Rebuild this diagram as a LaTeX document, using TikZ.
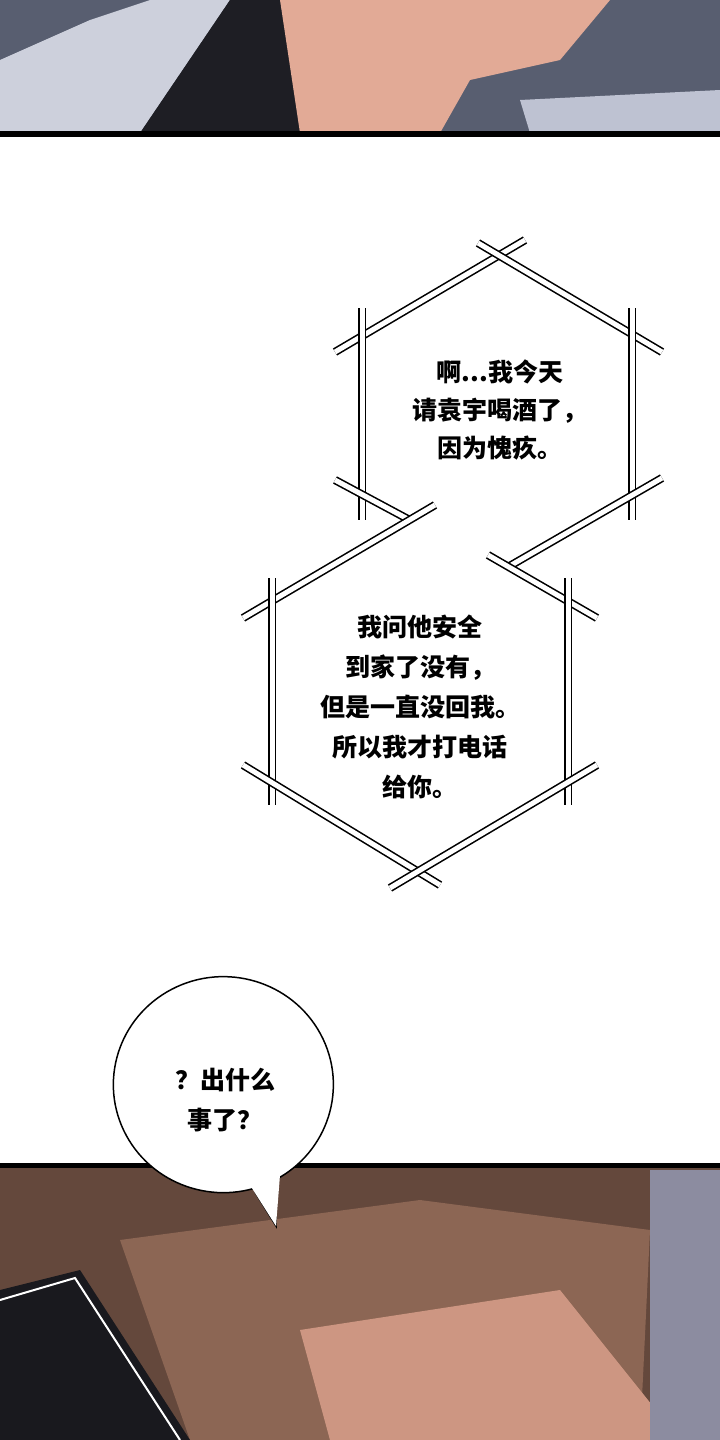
\documentclass[tikz,border=0pt]{standalone}
\usepackage{fontspec}
\newfontfamily\cjk{Noto Sans CJK SC}
\begin{document}
\begin{tikzpicture}[x=1pt,y=-1pt,
  edge/.style={draw=black,line width=1.6pt,double=white,double distance=5pt},
  txt/.style={font=\cjk\bfseries\fontsize{25}{38}\selectfont,align=center,text=black}]
\useasboundingbox (0,0) rectangle (720,1440);
\fill[white] (0,0) rectangle (720,1440);
% top panel
\fill[fill={rgb,255:red,88;green,94;blue,112}] (0,0) rectangle (720,133);
\fill[fill={rgb,255:red,205;green,208;blue,220}] (0,60) -- (90,20) -- (150,0) -- (230,0) -- (140,133) -- (0,133) -- cycle;
\fill[fill={rgb,255:red,30;green,30;blue,36}] (140,133) -- (230,0) -- (290,0) -- (310,133) -- cycle;
\fill[fill={rgb,255:red,226;green,170;blue,150}] (280,0) -- (610,0) -- (560,60) -- (470,80) -- (440,133) -- (300,133) -- cycle;
\fill[fill={rgb,255:red,190;green,194;blue,210}] (520,100) -- (720,90) -- (720,133) -- (530,133) -- cycle;
\fill[black] (0,131) rectangle (720,137);
% bottom panel
\fill[fill={rgb,255:red,100;green,72;blue,60}] (0,1166) rectangle (720,1440);
\fill[fill={rgb,255:red,140;green,102;blue,84}] (120,1240) -- (420,1200) -- (650,1230) -- (640,1440) -- (190,1440) -- cycle;
\fill[fill={rgb,255:red,205;green,150;blue,130}] (300,1330) -- (560,1290) -- (680,1440) -- (330,1440) -- cycle;
\fill[fill={rgb,255:red,140;green,140;blue,160}] (650,1170) rectangle (720,1440);
\fill[fill={rgb,255:red,25;green,25;blue,30}] (0,1290) -- (80,1270) -- (190,1440) -- (0,1440) -- cycle;
\draw[white,line width=2pt] (0,1300) -- (75,1278) -- (180,1440);
\fill[black] (0,1163) rectangle (720,1168);
% hexagon 1
\coordinate (a1) at (335,352); \coordinate (a2) at (525,240);
\coordinate (b1) at (478,243); \coordinate (b2) at (662,352);
\coordinate (c1) at (632,308); \coordinate (c2) at (632,520);
\coordinate (d1) at (662,478); \coordinate (d2) at (482,582);
\coordinate (e1) at (362,308); \coordinate (e2) at (362,520);
\coordinate (f1) at (335,480); \coordinate (f2) at (432,532);
\foreach \p/\q in {a1/a2,b1/b2,c1/c2,d1/d2,e1/e2,f1/f2} \draw[edge] (\p) -- (\q);
\node[txt] (t1) at (500,410) {啊...我今天\\请袁宇喝酒了，\\因为愧疚。};
% hexagon 2
\fill[white] (272,600) -- (420,515) -- (568,600) -- (568,780) -- (418,873) -- (272,780) -- cycle;
\coordinate (g1) at (243,618); \coordinate (g2) at (435,505);
\coordinate (h1) at (488,555); \coordinate (h2) at (597,618);
\coordinate (i1) at (568,578); \coordinate (i2) at (568,805);
\coordinate (j1) at (272,578); \coordinate (j2) at (272,805);
\coordinate (k1) at (243,765); \coordinate (k2) at (440,885);
\coordinate (l1) at (390,888); \coordinate (l2) at (597,765);
\foreach \p/\q in {g1/g2,h1/h2,i1/i2,j1/j2,k1/k2,l1/l2} \draw[edge] (\p) -- (\q);
\node[txt,font=\cjk\bfseries\fontsize{25}{40}\selectfont] (t2) at (420,707) {我问他安全\\到家了没有，\\但是一直没回我。\\所以我才打电话\\给你。};
% bubble
\coordinate (tip) at (276,1226);
\draw[fill=white,line width=1.5pt] (255,1192) -- (tip) -- (275,1180) arc[start angle=62,end angle=-298,x radius=110,y radius=108] ;
\fill[white] (250,1185) -- (tip) -- (280,1175) -- cycle;
\node[txt,font=\cjk\bfseries\fontsize{25}{40}\selectfont] (t3) at (225,1100) {？出什么\\事了？};
\end{tikzpicture}
\end{document}
